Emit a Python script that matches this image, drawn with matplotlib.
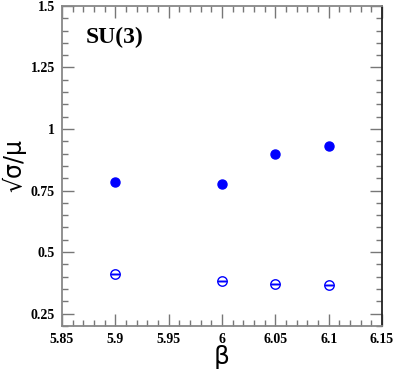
import matplotlib.pyplot as plt
from matplotlib.ticker import MultipleLocator

# beta values and sqrt(sigma)/mu for the two sets
beta = [5.9, 6.0, 6.05, 6.1]
ratio_filled = [0.783, 0.778, 0.898, 0.929]
ratio_open = [0.411, 0.383, 0.370, 0.368]
err_open = [0.0, 0.0, 0.0, 0.0]

fig = plt.figure(figsize=(3.95, 3.7), dpi=100)
ax = fig.add_axes([0.157, 0.119, 0.81, 0.865])

ax.plot(beta, ratio_filled, 'o', color='#0000ff', markersize=6.5, linestyle='none')
ax.errorbar(beta, ratio_open, yerr=err_open, fmt='o', mfc='none', mec='#0000ff',
            ecolor='#0000ff', markersize=6.8, mew=1.0, capsize=3.2, elinewidth=1.0)
ax.plot(beta, ratio_open, '_', color='#0000ff', markersize=6.5, mew=1.0, linestyle='none')

ax.set_xlim(5.85, 6.15)
ax.set_ylim(0.2, 1.5)
ax.xaxis.set_minor_locator(MultipleLocator(0.01))
ax.yaxis.set_minor_locator(MultipleLocator(0.05))
ax.set_xticks([5.85, 5.9, 5.95, 6.0, 6.05, 6.1, 6.15])
ax.set_xticklabels(['5.85', '5.9', '5.95', '6', '6.05', '6.1', '6.15'])
ax.set_yticks([0.25, 0.5, 0.75, 1.0, 1.25, 1.5])
ax.set_yticklabels(['0.25', '0.5', '0.75', '1', '1.25', '1.5'])

ax.tick_params(which='both', direction='in', top=True, right=True, color='#777777', width=1.0)
ax.tick_params(which='major', length=8.5, pad=5)
ax.tick_params(which='minor', length=4.5)
for lab in ax.get_xticklabels() + ax.get_yticklabels():
    lab.set_fontfamily('Liberation Serif')
    lab.set_fontweight('bold')
    lab.set_fontsize(10)

for side in ['left', 'bottom', 'top']:
    ax.spines[side].set_color('#888888')
    ax.spines[side].set_linewidth(1.3)
ax.spines['right'].set_color('#222222')
ax.spines['right'].set_linewidth(1.3)

ax.set_xlabel('β', fontsize=18, family='DejaVu Sans', labelpad=-1)
ax.set_ylabel('√σ/μ', fontsize=17, family='DejaVu Sans', labelpad=3)

ax.text(0.075, 0.9, 'SU(3)', transform=ax.transAxes, fontsize=17,
        family='Liberation Serif', fontweight='bold', va='center')

fig.savefig('out.png', dpi=100)
